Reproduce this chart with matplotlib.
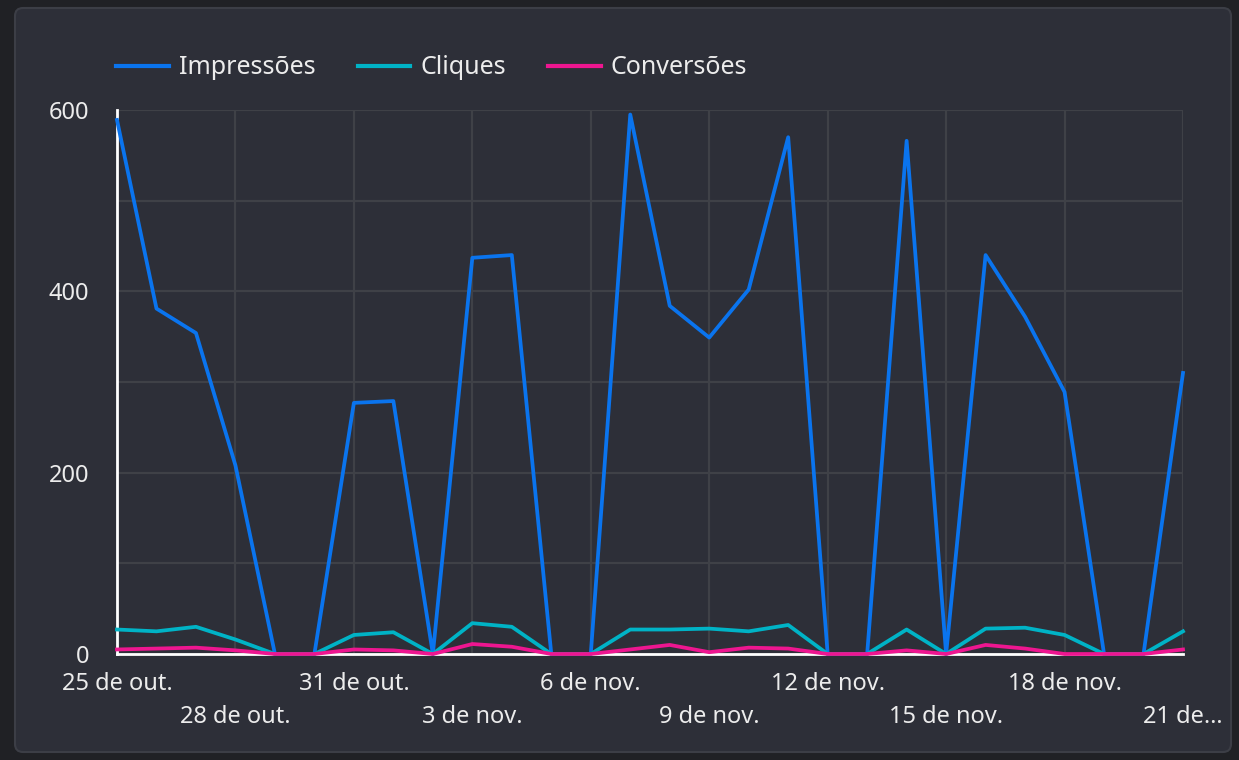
import pandas as pd
import matplotlib.pyplot as plt
import matplotlib.dates as mdates
from matplotlib.patches import FancyBboxPatch

plt.rcParams['font.family'] = ['Noto Sans', 'DejaVu Sans']

# Data
dates = pd.date_range("2023-10-25", "2023-11-21")
impressoes = [589, 381, 354, 208, 0, 0, 277, 279, 0, 437, 440, 0, 0, 595,
              384, 349, 402, 570, 0, 0, 566, 0, 440, 372, 289, 0, 0, 310]
cliques = [27, 25, 30, 16, 0, 0, 21, 24, 0, 34, 30, 0, 0, 27,
           27, 28, 25, 32, 0, 0, 27, 0, 28, 29, 21, 0, 0, 25]
conversoes = [5, 6, 7, 4, 0, 0, 5, 4, 0, 11, 8, 0, 0, 5,
              10, 2, 7, 6, 0, 0, 4, 0, 10, 6, 0, 0, 0, 5]
tick_labels = ["25 de out.", "28 de out.", "31 de out.", "3 de nov.", "6 de nov.",
               "9 de nov.", "12 de nov.", "15 de nov.", "18 de nov.", "21 de…"]
y_labels = [0, 200, 400, 600]

# Colours
outer_bg = "#202125"
panel_bg = "#2d2f38"
panel_edge = "#3c3e46"
grid_c = "#3f4147"
text_c = "#ececec"
c_imp = "#0a74ee"
c_cli = "#00b3c6"
c_con = "#ee1690"

fig = plt.figure(figsize=(12.39, 7.6), dpi=100, facecolor=outer_bg)

# Rounded panel behind the chart
panel = FancyBboxPatch((0.15, 0.08), 12.16, 7.44,
                       boxstyle="round,pad=0,rounding_size=0.08",
                       transform=fig.dpi_scale_trans,
                       facecolor=panel_bg, edgecolor=panel_edge, linewidth=1.5,
                       zorder=-10)
fig.patches.append(panel)

ax = fig.add_axes([117 / 1239, 1 - 654 / 760, (1183 - 117) / 1239, (654 - 110) / 760])
ax.set_facecolor(panel_bg)

ax.plot(dates, impressoes, color=c_imp, lw=2.7, label="Impressões", zorder=3, clip_on=False)
ax.plot(dates, cliques, color=c_cli, lw=2.7, label="Cliques", zorder=3, clip_on=False)
ax.plot(dates, conversoes, color=c_con, lw=2.7, label="Conversões", zorder=3, clip_on=False)

ax.set_xlim(dates[0], dates[-1])
ax.set_ylim(0, 600)

# x ticks: every 3 days, alternating rows
tick_dates = mdates.date2num(dates[::3])
ax.set_xticks(tick_dates[::2], labels=tick_labels[::2])
ax.set_xticks(tick_dates[1::2], labels=tick_labels[1::2], minor=True)

# y ticks: labels every 200, grid every 100
ax.set_yticks(y_labels, labels=[str(v) for v in y_labels])
ax.set_yticks([100, 300, 500], minor=True)

ax.tick_params(axis="both", which="both", length=0, colors=text_c, labelsize=17)
ax.tick_params(axis="x", which="major", pad=13)
ax.tick_params(axis="x", which="minor", pad=37)
ax.tick_params(axis="y", pad=20)

ax.grid(which="both", color=grid_c, lw=1.6)
ax.set_axisbelow(True)

for side in ["top", "right"]:
    ax.spines[side].set_visible(False)
for side in ["left", "bottom"]:
    ax.spines[side].set_color("white")
    ax.spines[side].set_linewidth(2)

leg = fig.legend(loc="center left", bbox_to_anchor=(116 / 1239, 1 - 68 / 760),
                 ncol=3, frameon=False, fontsize=18, handlelength=2.1,
                 handletextpad=0.4, columnspacing=1.7, borderpad=0,
                 borderaxespad=0)
for t in leg.get_texts():
    t.set_color(text_c)
for h in leg.legend_handles:
    h.set_linewidth(3)

fig.savefig("out.png", dpi=100, facecolor=outer_bg)
